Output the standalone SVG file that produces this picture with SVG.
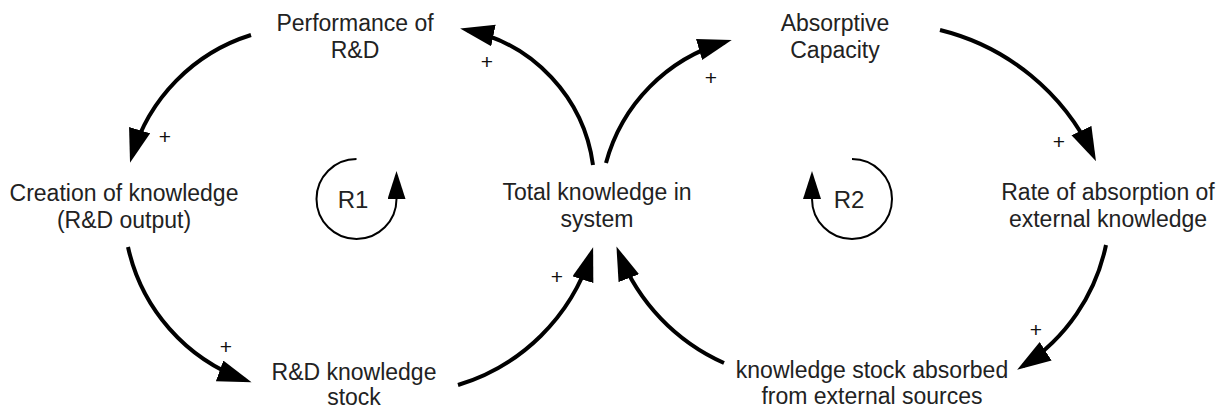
<svg xmlns="http://www.w3.org/2000/svg" width="1228" height="414" viewBox="0 0 1228 414">
  <style>
    .lbl { font-family: "Liberation Sans", Arial, sans-serif; font-size: 23px; fill: #222; text-anchor: middle; }
    .tag { font-family: "Liberation Sans", Arial, sans-serif; font-size: 24px; fill: #222; text-anchor: middle; }
    .sign { font-family: "Liberation Sans", Arial, sans-serif; font-size: 21px; fill: #111; text-anchor: middle; }
    .link { fill: none; stroke: #000; stroke-width: 4; marker-end: url(#head); }
    .loop { fill: none; stroke: #000; stroke-width: 2; marker-end: url(#smallhead); }
  </style>
  <defs>
    <marker id="head" markerUnits="userSpaceOnUse" markerWidth="36" markerHeight="24" refX="27" refY="11" orient="auto">
      <path d="M0,0 L34,11 L0,22 z" fill="#000"/>
    </marker>
    <marker id="smallhead" markerUnits="userSpaceOnUse" markerWidth="30" markerHeight="20" refX="0" refY="9" orient="auto">
      <path d="M0,0 L28,9 L0,18 z" fill="#000"/>
    </marker>
  </defs>

  <rect width="1228" height="414" fill="#fff"/>

  <!-- causal links -->
  <g id="connectors">
    <path class="link" d="M251,35 A180,180 0 0 0 132,156"/>
    <path class="link" d="M593,165 A160,160 0 0 0 467,30"/>
    <path class="link" d="M606,163 A173,173 0 0 1 725,42"/>
    <path class="link" d="M940,30 A230,230 0 0 1 1093,155"/>
    <path class="link" d="M1106,245 A190,190 0 0 1 1023,366"/>
    <path class="link" d="M724,363 A200,200 0 0 1 619,253"/>
    <path class="link" d="M128,247 A183,183 0 0 0 245,380"/>
    <path class="link" d="M458,385 A200,200 0 0 0 591,254"/>
  </g>

  <!-- polarity signs -->
  <g id="signs">
    <text class="sign" x="165" y="144">+</text>
    <text class="sign" x="487" y="69">+</text>
    <text class="sign" x="711" y="85">+</text>
    <text class="sign" x="1059" y="149">+</text>
    <text class="sign" x="1036" y="337">+</text>
    <text class="sign" x="226" y="354">+</text>
    <text class="sign" x="557" y="284">+</text>
  </g>

  <!-- loop markers -->
  <g id="loop-r1">
    <path class="loop" d="M356.5,159 A40,40 0 1 0 396.5,199"/>
    <text class="tag" x="353" y="208">R1</text>
  </g>
  <g id="loop-r2">
    <path class="loop" d="M852,159 A40,40 0 1 1 812,199"/>
    <text class="tag" x="849" y="208">R2</text>
  </g>

  <!-- variables -->
  <g id="performance">
    <text class="lbl" x="355" y="31">Performance of</text>
    <text class="lbl" x="355" y="58">R&amp;D</text>
  </g>
  <g id="absorptive-capacity">
    <text class="lbl" x="835" y="31">Absorptive</text>
    <text class="lbl" x="835" y="58">Capacity</text>
  </g>
  <g id="creation">
    <text class="lbl" x="124" y="201">Creation of knowledge</text>
    <text class="lbl" x="124" y="228">(R&amp;D output)</text>
  </g>
  <g id="total-knowledge">
    <text class="lbl" x="597" y="200">Total knowledge in</text>
    <text class="lbl" x="597" y="227">system</text>
  </g>
  <g id="absorption-rate">
    <text class="lbl" x="1108" y="200">Rate of absorption of</text>
    <text class="lbl" x="1108" y="227">external knowledge</text>
  </g>
  <g id="rd-stock">
    <text class="lbl" x="354" y="380">R&amp;D knowledge</text>
    <text class="lbl" x="354" y="405">stock</text>
  </g>
  <g id="external-stock">
    <text class="lbl" x="872" y="378">knowledge stock absorbed</text>
    <text class="lbl" x="872" y="404">from external sources</text>
  </g>
</svg>
